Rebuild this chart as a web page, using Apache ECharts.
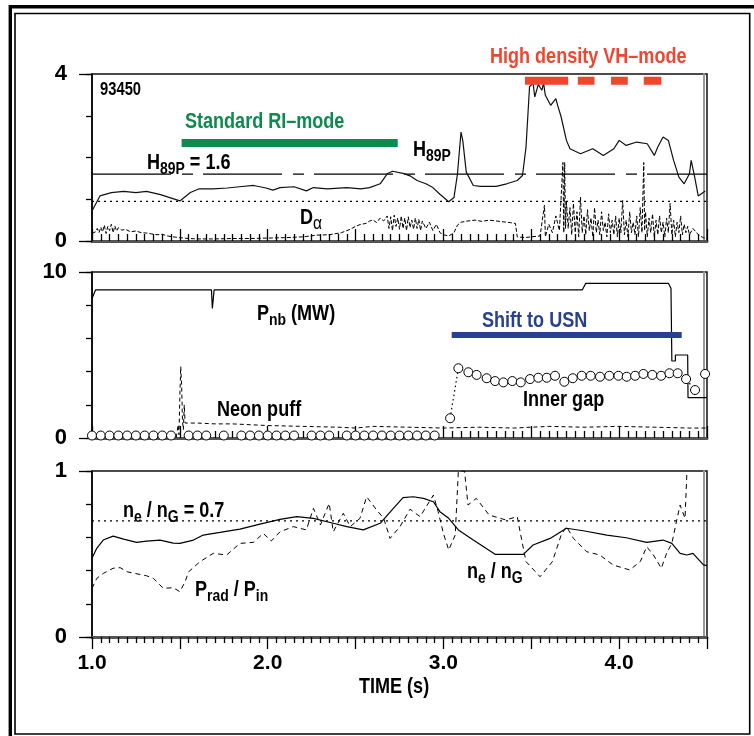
<!DOCTYPE html>
<html>
<head>
<meta charset="utf-8">
<script src="https://cdn.jsdelivr.net/npm/echarts@6/dist/echarts.min.js"></script>
<style>
  html, body { margin: 0; padding: 0; background: #fff; }
  #chart { width: 754px; height: 736px; }
</style>
</head>
<body>
<div id="chart"></div>
<script>
// ---- shot 93450 : time traces, [time (s), value] ----
const h89p = [
  [1.00,0.72],[1.045,1.08],[1.11,1.16],[1.18,1.19],[1.25,1.16],[1.31,1.19],[1.39,1.11],[1.50,0.96],
  [1.56,1.16],[1.61,1.25],[1.69,1.25],[1.77,1.27],[1.84,1.30],[1.92,1.33],[1.99,1.27],[2.03,1.22],
  [2.07,1.28],[2.15,1.30],[2.22,1.20],[2.26,1.28],[2.34,1.25],[2.45,1.28],[2.53,1.25],[2.58,1.28],
  [2.64,1.37],[2.68,1.61],[2.71,1.67],[2.77,1.62],[2.81,1.56],[2.85,1.45],[2.90,1.37],[2.94,1.28],
  [2.98,1.12],[3.03,0.94],[3.06,1.04],[3.08,1.61],[3.10,2.61],[3.11,2.41],[3.13,1.65],[3.17,1.33],
  [3.21,1.31],[3.30,1.31],[3.36,1.37],[3.42,1.45],[3.45,1.57],[3.47,2.25],[3.49,3.69],[3.51,3.78],
  [3.52,3.45],[3.54,3.75],[3.56,3.61],[3.57,3.78],[3.58,3.49],[3.61,3.25],[3.64,3.41],[3.65,3.25],
  [3.67,2.97],[3.70,2.41],[3.72,2.21],[3.78,2.09],[3.79,2.05],[3.85,2.21],[3.91,2.05],[3.97,2.21],
  [4.00,2.41],[4.04,2.29],[4.10,2.37],[4.16,2.33],[4.20,2.05],[4.22,2.25],[4.25,2.49],[4.28,2.41],
  [4.31,1.93],[4.34,1.53],[4.37,1.37],[4.40,1.61],[4.41,1.93],[4.43,1.53],[4.45,1.08],[4.49,1.20]
];
const dAlpha = [
  [1.00,0.18],[1.02,0.22],[1.03,0.30],[1.04,0.20],[1.05,0.33],[1.06,0.22],[1.07,0.38],[1.08,0.18],
  [1.09,0.35],[1.10,0.25],[1.11,0.40],[1.12,0.20],[1.13,0.36],[1.14,0.24],[1.15,0.32],[1.17,0.26],
  [1.19,0.28],[1.22,0.22],[1.25,0.24],[1.28,0.20],[1.31,0.19],[1.34,0.17],[1.37,0.15],[1.40,0.16],
  [1.43,0.12],[1.46,0.10],[1.50,0.08],[1.55,0.06],[1.60,0.05],[1.70,0.05],[1.80,0.06],[1.90,0.06],
  [2.00,0.07],[2.10,0.08],[2.20,0.10],[2.28,0.14],[2.35,0.15],[2.42,0.20],[2.47,0.28],[2.50,0.35],
  [2.53,0.40],[2.56,0.42],[2.58,0.48],[2.60,0.50],[2.62,0.44],[2.64,0.55],[2.66,0.48],[2.68,0.60],
  [2.69,0.30],[2.70,0.58],[2.71,0.25],[2.72,0.62],[2.73,0.35],[2.74,0.55],[2.75,0.28],[2.76,0.60],
  [2.77,0.30],[2.78,0.55],[2.79,0.25],[2.80,0.58],[2.81,0.32],[2.82,0.50],[2.83,0.28],[2.84,0.55],
  [2.85,0.30],[2.86,0.52],[2.87,0.25],[2.88,0.48],[2.90,0.30],[2.92,0.45],[2.94,0.25],[2.96,0.40],
  [2.98,0.20],[3.00,0.15],[3.03,0.12],[3.06,0.20],[3.08,0.38],[3.10,0.45],[3.14,0.48],[3.18,0.50],
  [3.22,0.47],[3.26,0.50],[3.30,0.48],[3.34,0.46],[3.38,0.44],[3.41,0.42],[3.42,0.10],[3.46,0.08],
  [3.50,0.10],[3.55,0.12],[3.575,0.86],[3.58,0.10],[3.60,0.40],[3.62,0.20],[3.64,0.60],[3.66,0.25],
  [3.68,1.88],[3.685,0.20],[3.69,1.88],[3.695,0.30],[3.70,0.95],[3.71,0.30],[3.72,0.80],[3.73,0.15],
  [3.74,0.90],[3.75,0.20],[3.76,0.70],[3.77,0.10],[3.78,1.05],[3.79,0.20],[3.80,0.60],[3.81,0.15],
  [3.82,0.75],[3.83,0.25],[3.84,0.55],[3.85,0.10],[3.86,0.80],[3.87,0.20],[3.88,0.50],[3.89,0.15],
  [3.90,0.70],[3.91,0.25],[3.92,0.45],[3.93,0.10],[3.94,0.65],[3.95,0.20],[3.96,0.50],[3.97,0.15],
  [3.98,0.60],[3.99,0.10],[4.00,0.55],[4.01,0.20],[4.02,0.97],[4.03,0.15],[4.04,0.50],[4.05,0.10],
  [4.06,0.70],[4.07,0.20],[4.08,0.45],[4.09,0.15],[4.10,0.60],[4.11,0.10],[4.12,0.80],[4.13,0.20],
  [4.14,1.88],[4.145,0.25],[4.15,0.70],[4.16,0.10],[4.17,0.55],[4.18,0.20],[4.19,0.65],[4.20,0.10],
  [4.21,0.50],[4.22,0.15],[4.23,0.60],[4.24,0.20],[4.25,0.45],[4.26,0.10],[4.27,0.55],[4.28,0.20],
  [4.29,0.90],[4.30,0.15],[4.31,0.50],[4.32,0.10],[4.33,0.45],[4.34,0.20],[4.35,0.60],[4.36,0.15],
  [4.37,0.40],[4.38,0.20],[4.39,0.35],[4.40,0.15],[4.42,0.30],[4.44,0.20],[4.46,0.12],[4.48,0.08],
  [4.50,0.05]
];
const h89pRef = 1.6;     // H89P = 1.6 reference
const h89pUnity = 0.95;  // dotted reference
const riModeBar = [[1.51,2.35],[2.74,2.35]];
const vhModeBar = [[3.464,3.84],[3.71,3.84],null,[3.765,3.84],[3.86,3.84],null,
                   [3.954,3.84],[4.049,3.84],null,[4.14,3.84],[4.24,3.84]];

const pnb = [
  [1.00,8.40],[1.02,8.92],[1.68,8.92],[1.685,7.80],[1.69,7.90],[1.695,8.92],[3.79,8.92],[3.81,9.32],
  [4.28,9.32],[4.295,9.02],[4.30,4.64],[4.32,4.64],[4.32,5.00],[4.39,5.00],[4.392,2.43],[4.50,2.43]
];
const neonPuff = [
  [1.00,0.05],[1.48,0.05],[1.49,0.80],[1.495,0.20],[1.50,2.50],[1.505,4.30],[1.51,3.20],[1.515,1.00],
  [1.52,0.50],[1.525,2.00],[1.53,0.90],[1.60,0.90],[1.70,0.85],[1.80,0.85],[1.90,0.80],[2.00,0.75],
  [2.20,0.70],[2.40,0.65],[2.50,0.60],[2.60,0.70],[2.80,0.65],[3.00,0.60],[3.20,0.65],[3.40,0.60],
  [3.60,0.70],[3.80,0.65],[4.00,0.70],[4.20,0.65],[4.40,0.60],[4.50,0.60]
];
const innerGap = [
  [1.00,0.15],[1.05,0.15],[1.10,0.15],[1.15,0.15],[1.20,0.15],[1.25,0.15],[1.30,0.15],[1.35,0.15],
  [1.40,0.15],[1.45,0.15],[1.50,null],[1.55,0.15],[1.60,0.15],[1.65,0.15],[1.70,null],[1.75,0.15],
  [1.80,null],[1.85,0.15],[1.90,0.15],[1.95,0.15],[2.00,0.15],[2.05,0.15],[2.10,0.15],[2.15,0.15],
  [2.20,null],[2.25,0.15],[2.30,0.15],[2.35,0.15],[2.40,null],[2.45,0.15],[2.50,0.15],[2.55,0.15],
  [2.60,0.15],[2.65,0.15],[2.70,0.15],[2.75,0.15],[2.80,0.15],[2.85,0.15],[2.90,0.15],[2.95,0.15],
  [3.00,null],
  [3.038,1.19],[3.085,4.20],[3.142,3.96],[3.189,3.80],[3.246,3.60],[3.294,3.43],[3.341,3.35],
  [3.392,3.43],[3.440,3.35],[3.493,3.55],[3.540,3.63],[3.588,3.63],[3.635,3.75],[3.688,3.39],
  [3.736,3.60],[3.787,3.75],[3.838,3.75],[3.891,3.69],[3.944,3.75],[3.996,3.75],[4.043,3.69],
  [4.091,3.75],[4.138,3.86],[4.189,3.80],[4.239,3.75],[4.286,3.90],[4.333,3.90],[4.381,3.55],
  [4.432,2.89],[4.47,null],[4.489,3.86]
];
const usnBar = [[3.047,6.2],[4.356,6.2]];

const neRatio = [
  [1.00,0.474],[1.027,0.534],[1.064,0.584],[1.12,0.608],[1.18,0.590],[1.254,0.570],[1.31,0.578],
  [1.387,0.584],[1.463,0.566],[1.50,0.564],[1.577,0.584],[1.633,0.614],[1.728,0.630],[1.842,0.650],
  [1.956,0.680],[2.07,0.709],[2.165,0.725],[2.26,0.715],[2.373,0.685],[2.45,0.665],[2.544,0.645],
  [2.64,0.685],[2.715,0.775],[2.77,0.840],[2.829,0.845],[2.886,0.835],[2.943,0.815],[2.98,0.755],
  [3.03,0.715],[3.085,0.645],[3.17,0.584],[3.294,0.498],[3.455,0.498],[3.51,0.554],[3.607,0.594],
  [3.70,0.655],[3.796,0.640],[3.93,0.614],[4.04,0.598],[4.157,0.570],[4.25,0.584],[4.30,0.564],
  [4.347,0.504],[4.385,0.494],[4.42,0.504],[4.48,0.434],[4.50,0.430]
];
const pradRatio = [
  [1.00,0.293],[1.027,0.353],[1.064,0.383],[1.12,0.414],[1.16,0.418],[1.20,0.393],[1.244,0.383],
  [1.31,0.369],[1.35,0.353],[1.406,0.293],[1.463,0.297],[1.50,0.273],[1.53,0.333],[1.55,0.393],
  [1.615,0.454],[1.69,0.504],[1.766,0.494],[1.842,0.564],[1.918,0.570],[1.975,0.624],[2.02,0.578],
  [2.07,0.634],[2.146,0.665],[2.22,0.645],[2.26,0.775],[2.30,0.675],[2.35,0.805],[2.373,0.634],
  [2.43,0.745],[2.47,0.665],[2.525,0.715],[2.563,0.845],[2.62,0.765],[2.66,0.715],[2.696,0.594],
  [2.753,0.665],[2.81,0.770],[2.867,0.725],[2.943,0.855],[2.97,0.755],[3.00,0.624],[3.03,0.524],
  [3.067,0.614],[3.085,1.00],[3.12,1.00],[3.14,0.795],[3.187,0.835],[3.26,0.735],[3.355,0.705],
  [3.42,0.725],[3.44,0.614],[3.47,0.454],[3.55,0.363],[3.62,0.454],[3.67,0.614],[3.70,0.665],
  [3.74,0.594],[3.815,0.514],[3.89,0.494],[3.965,0.434],[4.06,0.404],[4.12,0.454],[4.157,0.544],
  [4.195,0.494],[4.24,0.414],[4.27,0.504],[4.30,0.564],[4.33,0.715],[4.347,0.795],[4.375,0.715],
  [4.385,0.976]
];
const greenwaldRef = 0.7;

// tick values and ranges
const timeRange = [1.0, 4.5];
const timeLabels = [1, 2, 3, 4];
const panelRanges = [[0, 4, 1], [0, 10, 2], [0, 1, 0.2]];

// ---- layout ----
const FONT = '"Liberation Sans", Arial, sans-serif';
const NARROW = 0.82;   // horizontal squeeze for the condensed lettering
const grids = [
  { left: 92, right: 47, top: 74, height: 167 },
  { left: 92, right: 47, top: 272, height: 166 },
  { left: 92, right: 47, top: 471, height: 166 }
];

function xAxisFor(i) {
  const last = i === 2;
  return {
    type: 'value', gridIndex: i, min: timeRange[0], max: timeRange[1], interval: 0.5,
    axisLine: { show: true, lineStyle: { color: '#555', width: 3 } },
    axisTick: { show: true, inside: !last, length: 12, lineStyle: { color: '#000', width: 1.3 } },
    minorTick: { show: true, splitNumber: 10, length: last ? 6 : 7, lineStyle: { color: '#000', width: 1.3 } },
    splitLine: { show: false }, minorSplitLine: { show: false },
    axisLabel: {
      show: last, margin: 16, color: '#000', fontSize: 21, fontWeight: 'bold', fontFamily: FONT,
      formatter: v => (timeLabels.indexOf(v) >= 0 ? v.toFixed(1) : '')
    }
  };
}
function yAxesFor(i) {
  const [lo, hi, step] = panelRanges[i];
  return [
    { // labelled end ticks
      type: 'value', gridIndex: i, min: lo, max: hi, interval: hi - lo, position: 'left',
      axisLine: { show: true, lineStyle: { color: '#000', width: 1.5 } },
      axisTick: { show: true, length: 13, lineStyle: { color: '#000', width: 1.3 } },
      splitLine: { show: false },
      axisLabel: { margin: 25, color: '#000', fontSize: 22, fontWeight: 'bold', fontFamily: FONT }
    },
    { // intermediate short ticks
      type: 'value', gridIndex: i, min: lo, max: hi, interval: step, position: 'left',
      axisLine: { show: false }, axisLabel: { show: false }, splitLine: { show: false },
      axisTick: { show: true, length: 6, lineStyle: { color: '#000', width: 1.3 } }
    },
    { // shaded inner edge on the right side
      type: 'value', gridIndex: i, min: lo, max: hi, position: 'right', offset: -3,
      axisLine: { show: true, lineStyle: { color: '#999', width: 2 } },
      axisTick: { show: false }, axisLabel: { show: false }, splitLine: { show: false }
    }
  ];
}

const yAxis = [].concat(yAxesFor(0), yAxesFor(1), yAxesFor(2));
const Y = [0, 3, 6];

function line(name, data, gi, style, extra) {
  return Object.assign({
    type: 'line', name, data, xAxisIndex: gi, yAxisIndex: Y[gi],
    showSymbol: false, symbol: 'none', animation: false, connectNulls: false,
    lineStyle: Object.assign({ color: '#000', width: 1.2 }, style)
  }, extra || {});
}
function hLine(name, value, gi, style) {
  return line(name, [[timeRange[0], value], [timeRange[1], value]], gi, style);
}

const series = [
  // panel 1
  hLine('H89P = 1.6', h89pRef, 0, { width: 1.3, type: [79, 11, 11, 10] }),
  hLine('unity', h89pUnity, 0, { width: 1.3, type: [2, 4] }),
  line('D alpha', dAlpha, 0, { width: 1, type: [4, 2] }),
  line('H89P', h89p, 0, { width: 1.2, color: '#111' }),
  line('Standard RI-mode', riModeBar, 0, { width: 8, color: '#0d8a4e', cap: 'butt' }),
  line('High density VH-mode', vhModeBar, 0, { width: 8, color: '#ef4630', cap: 'butt' }),
  // panel 2
  line('Neon puff', neonPuff, 1, { width: 1, type: [4, 3] }),
  line('Pnb', pnb, 1, { width: 1.2 }),
  line('Inner gap', innerGap, 1, { width: 1.2, type: [1.5, 3] }, {
    showSymbol: true, symbol: 'circle', symbolSize: 9, clip: false,
    itemStyle: { color: '#fff', borderColor: '#000', borderWidth: 1 }
  }),
  line('Shift to USN', usnBar, 1, { width: 6, color: '#27408f', cap: 'butt' }),
  // panel 3
  hLine('ne/nG = 0.7', greenwaldRef, 2, { width: 1.3, type: [2, 4] }),
  line('Prad/Pin', pradRatio, 2, { width: 1, type: [5, 4] }, { clip: true }),
  line('ne/nG', neRatio, 2, { width: 1.2 })
];

function label(x, y, text, rich, color, size, align) {
  const base = { fontFamily: FONT, fontWeight: 'bold', fontSize: size || 22, fill: color || '#000' };
  const r = {};
  Object.keys(rich || {}).forEach(k => { r[k] = Object.assign({}, base, rich[k]); });
  return {
    type: 'text', x, y, scaleX: NARROW, silent: true, z: 100,
    style: Object.assign({}, base, { text, rich: r, verticalAlign: 'middle', align: align || 'left' })
  };
}
const subRich = {
  m: { fontSize: 22, lineHeight: 30, verticalAlign: 'middle' },
  s: { fontSize: 17, lineHeight: 30, verticalAlign: 'bottom' }
};

const graphic = [
  { type: 'rect', silent: true, shape: { x: 10.3, y: 6.7, width: 760, height: 760 },
    style: { fill: 'none', stroke: '#000', lineWidth: 3.4 } },
  { type: 'rect', silent: true, shape: { x: 15, y: 13.5, width: 734.7, height: 720.5 },
    style: { fill: 'none', stroke: '#000', lineWidth: 1.6 } },
  label(100, 90, '93450', null, '#000', 18),
  label(185, 122, 'Standard RI\u2013mode', null, '#0d8a4e'),
  label(490, 57, 'High density VH\u2013mode', null, '#ef4630'),
  label(147, 163, '{m|H}{s|89P}{m| = 1.6}', subRich),
  label(413, 150, '{m|H}{s|89P}', subRich),
  label(300, 218, '{m|D}{a|\u03b1}', { m: subRich.m, a: { fontSize: 19, fontWeight: 'normal', lineHeight: 30, verticalAlign: 'bottom' } }),
  label(257, 314, '{m|P}{s|nb}{m| (MW)}', subRich),
  label(217, 410, 'Neon puff'),
  label(482, 321, 'Shift to USN', null, '#27408f'),
  label(523, 400, 'Inner gap'),
  label(123, 511, '{m|n}{s|e}{m| / n}{s|G}{m| = 0.7}', subRich),
  label(195, 590, '{m|P}{s|rad}{m| / P}{s|in}', subRich),
  label(467, 572, '{m|n}{s|e}{m| / n}{s|G}', subRich),
  label(359, 687, 'TIME (s)', null, '#000', 22)
];

const chart = echarts.init(document.getElementById('chart'), null, { renderer: 'canvas' });
chart.setOption({
  backgroundColor: '#fff',
  animation: false,
  grid: grids.map(g => Object.assign({ show: true, borderColor: '#111', borderWidth: 1.5, containLabel: false }, g)),
  xAxis: [0, 1, 2].map(xAxisFor),
  yAxis,
  series,
  graphic
});
</script>
</body>
</html>
